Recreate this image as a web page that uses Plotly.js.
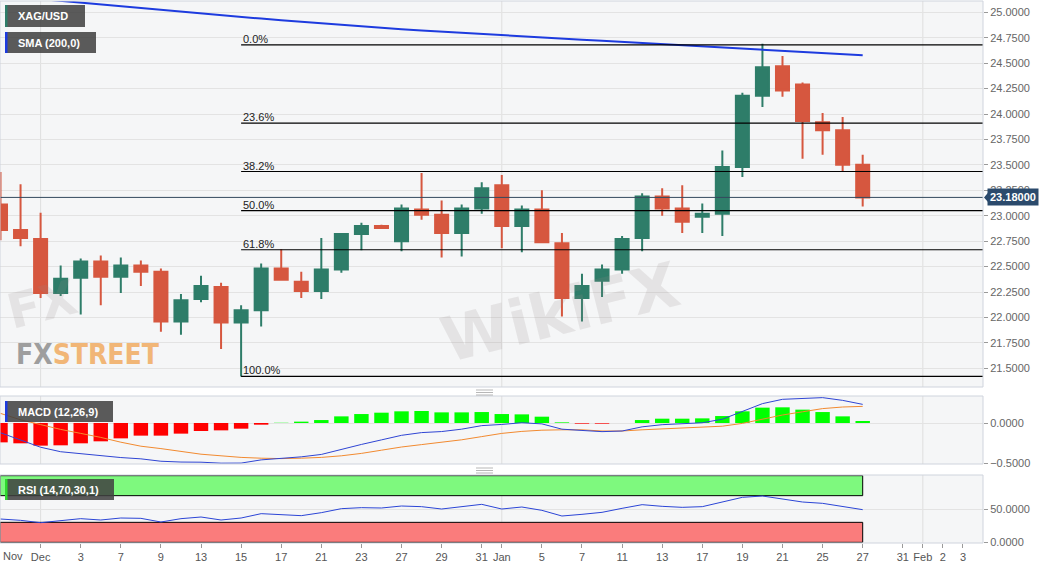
<!DOCTYPE html>
<html><head><meta charset="utf-8">
<script src="https://cdn.plot.ly/plotly-3.0.1.min.js"></script>
<style>html,body{margin:0;padding:0;background:#fff;}#chart{width:1060px;height:569px;}</style>
</head><body><div id="chart"></div>
<script>
// ---------------- data ----------------
const dates = ['2021-11-29','2021-11-30','2021-12-01','2021-12-02','2021-12-03','2021-12-06','2021-12-07','2021-12-08','2021-12-09','2021-12-10','2021-12-13','2021-12-14','2021-12-15','2021-12-16','2021-12-17','2021-12-20','2021-12-21','2021-12-22','2021-12-23','2021-12-24','2021-12-27','2021-12-28','2021-12-29','2021-12-30','2021-12-31','2022-01-03','2022-01-04','2022-01-05','2022-01-06','2022-01-07','2022-01-10','2022-01-11','2022-01-12','2022-01-13','2022-01-14','2022-01-17','2022-01-18','2022-01-19','2022-01-20','2022-01-21','2022-01-24','2022-01-25','2022-01-26','2022-01-27'];
const openP  = [23.11,22.86,22.77,22.24,22.39,22.55,22.40,22.51,22.45,21.96,22.18,22.30,21.95,22.07,22.48,22.35,22.26,22.47,22.82,22.90,22.75,23.06,23.01,22.83,23.07,23.30,22.90,23.06,22.73,22.19,22.36,22.47,22.78,23.19,23.07,22.99,23.02,23.48,24.18,24.47,24.29,23.92,23.84,23.50];
const highP  = [23.43,23.31,23.03,22.51,22.58,22.61,22.59,22.56,22.48,22.23,22.41,22.34,22.12,22.53,22.67,22.45,22.78,22.83,22.93,22.91,23.11,23.42,23.15,23.11,23.33,23.40,23.10,23.25,22.83,22.43,22.52,22.80,23.22,23.27,23.30,23.12,23.64,24.21,24.69,24.57,24.31,24.01,23.97,23.60];
const lowP   = [22.76,22.70,22.19,22.21,22.03,22.12,22.24,22.31,21.86,21.83,22.15,21.69,21.42,21.91,22.36,22.19,22.18,22.44,22.66,22.87,22.65,22.96,22.59,22.60,23.02,22.68,22.64,22.73,22.01,21.96,22.20,22.43,22.65,23.00,22.83,22.83,22.80,23.38,24.07,24.17,23.56,23.60,23.44,23.09];
const closeP = [22.86,22.78,22.24,22.38,22.55,22.40,22.51,22.45,21.96,22.17,22.31,21.95,22.07,22.48,22.37,22.26,22.47,22.82,22.90,22.88,23.07,23.01,22.83,23.07,23.27,22.90,23.06,22.74,22.19,22.31,22.47,22.77,23.19,23.07,22.94,23.02,23.48,24.18,24.46,24.23,23.93,23.84,23.50,23.18];
const sma200 = [25.165,25.147,25.129,25.111,25.093,25.076,25.058,25.041,25.023,25.006,24.989,24.972,24.955,24.938,24.922,24.906,24.890,24.875,24.860,24.846,24.833,24.820,24.808,24.796,24.785,24.774,24.763,24.752,24.742,24.731,24.720,24.709,24.698,24.687,24.676,24.666,24.655,24.644,24.633,24.622,24.611,24.600,24.589,24.578];
const macdHist = [-0.242,-0.254,-0.283,-0.279,-0.254,-0.229,-0.192,-0.158,-0.158,-0.133,-0.100,-0.092,-0.071,-0.021,0.003,0.017,0.037,0.083,0.112,0.129,0.146,0.150,0.133,0.133,0.137,0.112,0.108,0.079,0.008,-0.008,-0.008,0.000,0.037,0.054,0.054,0.058,0.087,0.146,0.192,0.196,0.167,0.137,0.083,0.025];
const macdSignal = [0.120,0.040,-0.020,-0.080,-0.130,-0.180,-0.240,-0.290,-0.320,-0.355,-0.390,-0.410,-0.430,-0.440,-0.445,-0.440,-0.430,-0.410,-0.380,-0.340,-0.300,-0.270,-0.240,-0.210,-0.170,-0.130,-0.105,-0.090,-0.085,-0.085,-0.100,-0.100,-0.085,-0.075,-0.065,-0.055,-0.040,-0.005,0.050,0.100,0.140,0.180,0.200,0.208];
const macdLine = [-0.122,-0.214,-0.303,-0.359,-0.384,-0.409,-0.432,-0.448,-0.478,-0.488,-0.490,-0.502,-0.501,-0.461,-0.442,-0.423,-0.393,-0.327,-0.268,-0.211,-0.154,-0.120,-0.107,-0.077,-0.033,-0.018,0.003,-0.011,-0.077,-0.093,-0.108,-0.100,-0.048,-0.021,-0.011,0.003,0.047,0.141,0.242,0.296,0.307,0.317,0.283,0.233];
const rsi = [35,33,29.5,33,35.5,33.5,36.5,36,30.5,35.5,38,33.5,36.5,43,41.5,40,44.5,50.5,52,51.5,54.5,53.5,50,53.5,57,50,53,48,39.5,42,45,51,56.5,54,52.5,53.5,60.5,67.5,69.5,65,60.5,58.5,53.5,49];
const tickIdx  = [2,4,6,8,10,12,14,16,18,20,22,24,25,27,29,31,33,35,37,39,41,43,45,46,47,48];
const tickText = ['Dec','3','7','9','13','15','17','21','23','27','29','31','Jan','5','7','11','13','17','19','21','25','27','31','Feb','2','3'];
const monthIdx = [2,25,46];
const fibRatios = [0,0.236,0.382,0.5,0.618,1];
const fibLabels = ['0.0%','23.6%','38.2%','50.0%','61.8%','100.0%'];
const fibHigh = 24.68, fibLow = 21.42, fibStartIdx = 12;
const lastPrice = 23.18;
const rsiOver = 70, rsiUnder = 30;

// ---------------- geometry ----------------
const W=1060,H=569,ML=0,MR=77,MT=1,MB=26;
const PW=W-ML-MR, PH=H-MT-MB;
const px = x => (x-ML)/PW;
const py = y => (H-MB-y)/PH;
const XR = [-0.025, 49.0];
const xs = dates.map((d,i)=>i);

const GREEN='#2e7d69', RED='#d6573f';
const FONT='Liberation Sans, Arial, sans-serif';

const traces = [
  {type:'candlestick', x:xs, open:openP, high:highP, low:lowP, close:closeP, xaxis:'x', yaxis:'y',
   increasing:{line:{color:GREEN,width:2}, fillcolor:GREEN},
   decreasing:{line:{color:RED,width:2}, fillcolor:RED}, whiskerwidth:0, showlegend:false},
  {type:'scatter', mode:'lines', x:xs, y:sma200, xaxis:'x', yaxis:'y', line:{color:'#1d3bdf',width:2}, showlegend:false},
  {type:'bar', x:xs, y:macdHist, xaxis:'x', yaxis:'y2', width:0.72,
   marker:{color:macdHist.map(v=>v<0?'#ff0000':'#00ff00'), line:{width:0}}, showlegend:false},
  {type:'scatter', mode:'lines', x:xs, y:macdSignal, xaxis:'x', yaxis:'y2', line:{color:'#f28a30',width:1}, showlegend:false},
  {type:'scatter', mode:'lines', x:xs, y:macdLine, xaxis:'x', yaxis:'y2', line:{color:'#2f45d4',width:1}, showlegend:false},
  {type:'scatter', mode:'lines', x:xs, y:rsi, xaxis:'x', yaxis:'y3', line:{color:'#2b45d6',width:1}, showlegend:false}
];

const dMain=[py(387),py(1)], dMacd=[py(464),py(396)], dRsi=[0,py(475)];
const shapes=[], annotations=[];
// month gridlines
[['y',dMain],['y2',dMacd],['y3',dRsi]].forEach(([ax,d])=>monthIdx.forEach(m=>shapes.push({type:'line',xref:'x',yref:'paper',x0:m,x1:m,y0:d[0],y1:d[1],line:{color:'#dedede',width:1},layer:'below'})));
// RSI bands
shapes.push({type:'rect',xref:'x',yref:'y3',x0:XR[0],x1:xs[xs.length-1],y0:rsiOver,y1:100,fillcolor:'#7ef97e',line:{color:'#000',width:1},layer:'below'});
shapes.push({type:'rect',xref:'x',yref:'y3',x0:XR[0],x1:xs[xs.length-1],y0:0,y1:rsiUnder,fillcolor:'#fa7c7c',line:{color:'#000',width:1},layer:'below'});
// fib lines + labels
fibRatios.forEach((r,k)=>{
  const lv = fibHigh - r*(fibHigh-fibLow);
  shapes.push({type:'line',xref:'x',yref:'y',x0:fibStartIdx,x1:XR[1],y0:lv,y1:lv,line:{color:'#000',width:1.2}});
  annotations.push({xref:'x',yref:'y',x:fibStartIdx,y:lv,xanchor:'left',yanchor:'bottom',yshift:-2,text:fibLabels[k],showarrow:false,font:{family:FONT,size:11,color:'#222'}});
});
// last price line
shapes.push({type:'line',xref:'paper',yref:'y',x0:0,x1:1,y0:lastPrice,y1:lastPrice,line:{color:'#34495e',width:1}});
shapes.push({type:'path',xref:'paper',yref:'y',path:`M ${px(984)},${lastPrice} L ${px(988)},${lastPrice+0.045} L ${px(988)},${lastPrice-0.045} Z`,fillcolor:'#2b4a6c',line:{width:0}});
annotations.push({xref:'paper',yref:'y',x:px(987),y:lastPrice,xanchor:'left',yanchor:'middle',text:'<b>'+lastPrice.toFixed(5)+'</b>',showarrow:false,bgcolor:'#2b4a6c',font:{family:FONT,size:11,color:'#fff'},borderpad:2});
// panel frames
[dMain,dMacd,dRsi].forEach(d=>shapes.push({type:'rect',xref:'paper',yref:'paper',x0:0,x1:1,y0:d[0],y1:d[1],line:{color:'#cfd4dd',width:1},fillcolor:'rgba(0,0,0,0)'}));
// separator handles
[[390,392.5,395],[468,470.5,473]].forEach(g=>g.forEach(yy=>shapes.push({type:'line',xref:'paper',yref:'paper',x0:px(476),x1:px(493),y0:py(yy),y1:py(yy),line:{color:'#a5a5a5',width:0.8}})));
// legend boxes
const boxes=[
  {x0:5,x1:85,y0:5,y1:27,stripe:GREEN,text:'XAG/USD'},
  {x0:5,x1:96,y0:32,y1:53,stripe:'#1d3bdf',text:'SMA (200,0)'},
  {x0:5,x1:113,y0:401,y1:422,stripe:'#1d3bdf',text:'MACD (12,26,9)'},
  {x0:5,x1:114,y0:479,y1:500,stripe:'#2ed82e',text:'RSI (14,70,30,1)'}
];
boxes.forEach(b=>{
  shapes.push({type:'rect',xref:'paper',yref:'paper',x0:px(b.x0),x1:px(b.x1),y0:py(b.y1),y1:py(b.y0),fillcolor:'rgba(64,64,64,0.86)',line:{width:0}});
  shapes.push({type:'rect',xref:'paper',yref:'paper',x0:px(b.x0),x1:px(b.x0+2.5),y0:py(b.y1),y1:py(b.y0),fillcolor:b.stripe,line:{width:0}});
  annotations.push({xref:'paper',yref:'paper',x:px(16),y:py((b.y0+b.y1)/2),xanchor:'left',yanchor:'middle',text:'<b>'+b.text+'</b>',showarrow:false,font:{family:FONT,size:11,color:'#fff'}});
});
// x label at far left
annotations.push({xref:'paper',yref:'paper',x:px(1),y:py(556),xanchor:'left',yanchor:'middle',text:'Nov',showarrow:false,font:{family:FONT,size:11,color:'#555'}});
// watermarks
const wm = (x,y,size,txt)=>annotations.push({xref:'paper',yref:'paper',x:px(x),y:py(y),xanchor:'center',yanchor:'middle',text:'<b>'+txt+'</b>',textangle:-14,showarrow:false,font:{family:'DejaVu Sans, sans-serif',size:size,color:'rgba(150,135,135,0.17)'}});
wm(560,312,62,'WikiFX'); wm(42,304,48,'FX');
annotations.push({xref:'paper',yref:'paper',x:px(14),y:py(354),xanchor:'left',yanchor:'middle',showarrow:false,
  text:'<b><span style="color:#9e9e9e">FX</span><span style="color:#f1b677">STREET</span></b>',
  font:{family:'Liberation Sans Narrow, DejaVu Sans Condensed, Arial Narrow, sans-serif',size:28}});

const yCommon = {side:'right',anchor:'x',ticks:'outside',ticklen:4,tickcolor:'#9a9a9a',tickfont:{family:FONT,size:11,color:'#666'},
  gridcolor:'#e3e3e3',gridwidth:1,zeroline:false,showline:false,fixedrange:true,tickformat:'.4f'};

const layout = {
  width:W,height:H,margin:{l:ML,r:MR,t:MT,b:MB},
  paper_bgcolor:'#ffffff',plot_bgcolor:'#f5f6f7',showlegend:false,
  font:{family:FONT,size:11,color:'#555'},
  boxgap:0.35, boxgroupgap:0,
  xaxis:{domain:[0,1],anchor:'y3',range:XR,showgrid:false,zeroline:false,showline:false,
    tickvals:tickIdx,ticktext:tickText,tickangle:0,ticks:'outside',ticklen:4,tickcolor:'#9a9a9a',
    tickfont:{family:FONT,size:11,color:'#555'},rangeslider:{visible:false},fixedrange:true},
  yaxis:Object.assign({},yCommon,{domain:dMain,range:[21.316,25.111],dtick:0.25,tick0:0}),
  yaxis2:Object.assign({},yCommon,{domain:dMacd,range:[-0.5125,0.3375],tickvals:[0,-0.5]}),
  yaxis3:Object.assign({},yCommon,{domain:dRsi,range:[-1,101],tickvals:[0,50]}),
  shapes:shapes, annotations:annotations
};
Plotly.newPlot('chart',traces,layout,{staticPlot:true,displayModeBar:false});
</script></body></html>
